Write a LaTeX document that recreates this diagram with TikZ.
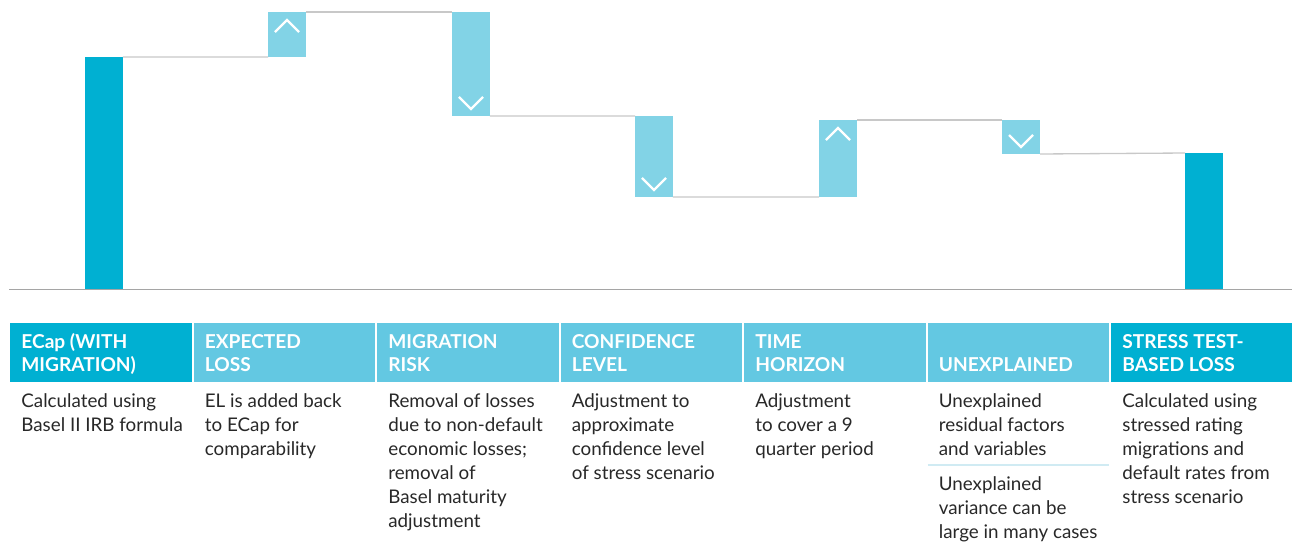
\documentclass[tikz,border=0pt]{standalone}
\usepackage{fontspec}
\setmainfont{Lato}
\usepackage{tikz}
\usetikzlibrary{calc}

\definecolor{capdark}{RGB}{0,176,210}
\definecolor{caplight}{RGB}{130,211,230}
\definecolor{headlight}{RGB}{99,200,226}
\definecolor{stepgray}{RGB}{200,200,200}
\definecolor{axisgray}{RGB}{165,165,165}
\definecolor{seprule}{RGB}{208,235,243}
\definecolor{bodygray}{RGB}{40,40,40}

\tikzset{
  darkbar/.style={fill=capdark, draw=none, minimum width=0.76cm, inner sep=0, outer sep=0, anchor=north west},
  lightbar/.style={fill=caplight, draw=none, minimum width=0.76cm, inner sep=0, outer sep=0, anchor=north west},
  stepline/.style={draw=stepgray, line width=0.75pt},
  chev/.style={draw=white, line width=1.3pt},
  headcell/.style={draw=none, minimum width=3.64cm, minimum height=1.18cm, inner sep=0, outer sep=0, anchor=north west},
  headtxt/.style={text=white, font=\fontsize{10.9}{13}\selectfont\bfseries, align=left, inner sep=0, anchor=base west},
  bodytxt/.style={text=bodygray, font=\fontsize{10.7}{13.6}\selectfont, align=left, inner sep=0, anchor=base west}
}
\def\chevup(#1){\draw[chev] ([shift={(-12,20)}]#1.north) -- ([shift={(0,8)}]#1.north) -- ([shift={(12,20)}]#1.north);}
\def\chevdown(#1){\draw[chev] ([shift={(-12,-19)}]#1.south) -- ([shift={(0,-7)}]#1.south) -- ([shift={(12,-19)}]#1.south);}

\begin{document}
\begin{tikzpicture}[x=0.02cm, y=-0.02cm]
	%%%%% FRAME %%%%%
	\useasboundingbox (0,0) rectangle (1292,542);
	
	\coordinate (axisL) at (9,289.5);
	\coordinate (axisR) at (1292,289.5);
	\draw[draw=axisgray, line width=0.85pt] (axisL) -- (axisR);
	
	%%%%% BARS %%%%%
	\node[darkbar, minimum height=4.64cm] (b1) at (85,57) {};
	\node[lightbar, minimum height=0.90cm] (b2) at (268,12) {};
	\node[lightbar, minimum height=2.08cm] (b3) at (452,12) {};
	\node[lightbar, minimum height=1.62cm] (b4) at (635,116) {};
	\node[lightbar, minimum height=1.54cm] (b5) at (819,120) {};
	\node[lightbar, minimum height=0.68cm] (b6) at (1002,120) {};
	\node[darkbar, minimum height=2.72cm] (b7) at (1185,153) {};
	
	\draw[stepline] (b1.north east) -- (b2.south west);
	\draw[stepline] (b2.north east) -- (b3.north west);
	\draw[stepline] (b3.south east) -- (b4.north west);
	\draw[stepline] (b4.south east) -- (b5.south west);
	\draw[stepline] (b5.north east) -- (b6.north west);
	\draw[stepline] (b6.south east) -- (b7.north west);
	
	\chevup(b2)
	\chevdown(b3)
	\chevdown(b4)
	\chevup(b5)
	\chevdown(b6)
	
	%%%%% TABLE %%%%%
	\node[headcell, fill=capdark] (h1) at (10,323) {};
	\node[headcell, fill=headlight] (h2) at (193.5,323) {};
	\node[headcell, fill=headlight] (h3) at (377,323) {};
	\node[headcell, fill=headlight] (h4) at (560.5,323) {};
	\node[headcell, fill=headlight] (h5) at (744,323) {};
	\node[headcell, fill=headlight] (h6) at (927.5,323) {};
	\node[headcell, fill=capdark] (h7) at (1111,323) {};
	
	% base = last line
	\node[headtxt] (t1) at (21,371) {ECap (WITH\\MIGRATION)};
	\node[headtxt] (t2) at (204.5,371) {EXPECTED\\LOSS};
	\node[headtxt] (t3) at (388,371) {MIGRATION\\RISK};
	\node[headtxt] (t4) at (571.5,371) {CONFIDENCE\\LEVEL};
	\node[headtxt] (t5) at (755,371) {TIME\\HORIZON};
	\node[headtxt] (t6) at (938.5,371) {UNEXPLAINED};
	\node[headtxt] (t7) at (1122,371) {STRESS TEST-\\BASED LOSS};
	
	\node[bodytxt] (d1) at (21,431) {Calculated using\\Basel II IRB formula};
	\node[bodytxt] (d2) at (204.5,455) {EL is added back\\to ECap for\\comparability};
	\node[bodytxt] (d3) at (388,527) {Removal of losses\\due to non-default\\economic losses;\\removal of\\Basel maturity\\adjustment};
	\node[bodytxt] (d4) at (571.5,479) {Adjustment to\\approximate\\confidence level\\of stress scenario};
	\node[bodytxt] (d5) at (755,455) {Adjustment\\to cover a 9\\quarter period};
	\node[bodytxt] (d6) at (938.5,455) {Unexplained\\residual factors\\and variables};
	\draw[draw=seprule, line width=1pt] (h6.south west |- 0,465) -- (h6.south east |- 0,465);
	\node[bodytxt] (d6b) at (938.5,538) {Unexplained\\variance can be\\large in many cases};
	\node[bodytxt] (d7) at (1122,503) {Calculated using\\stressed rating\\migrations and\\default rates from\\stress scenario};
	
	%%%%% END %%%%%
\end{tikzpicture}
\end{document}
